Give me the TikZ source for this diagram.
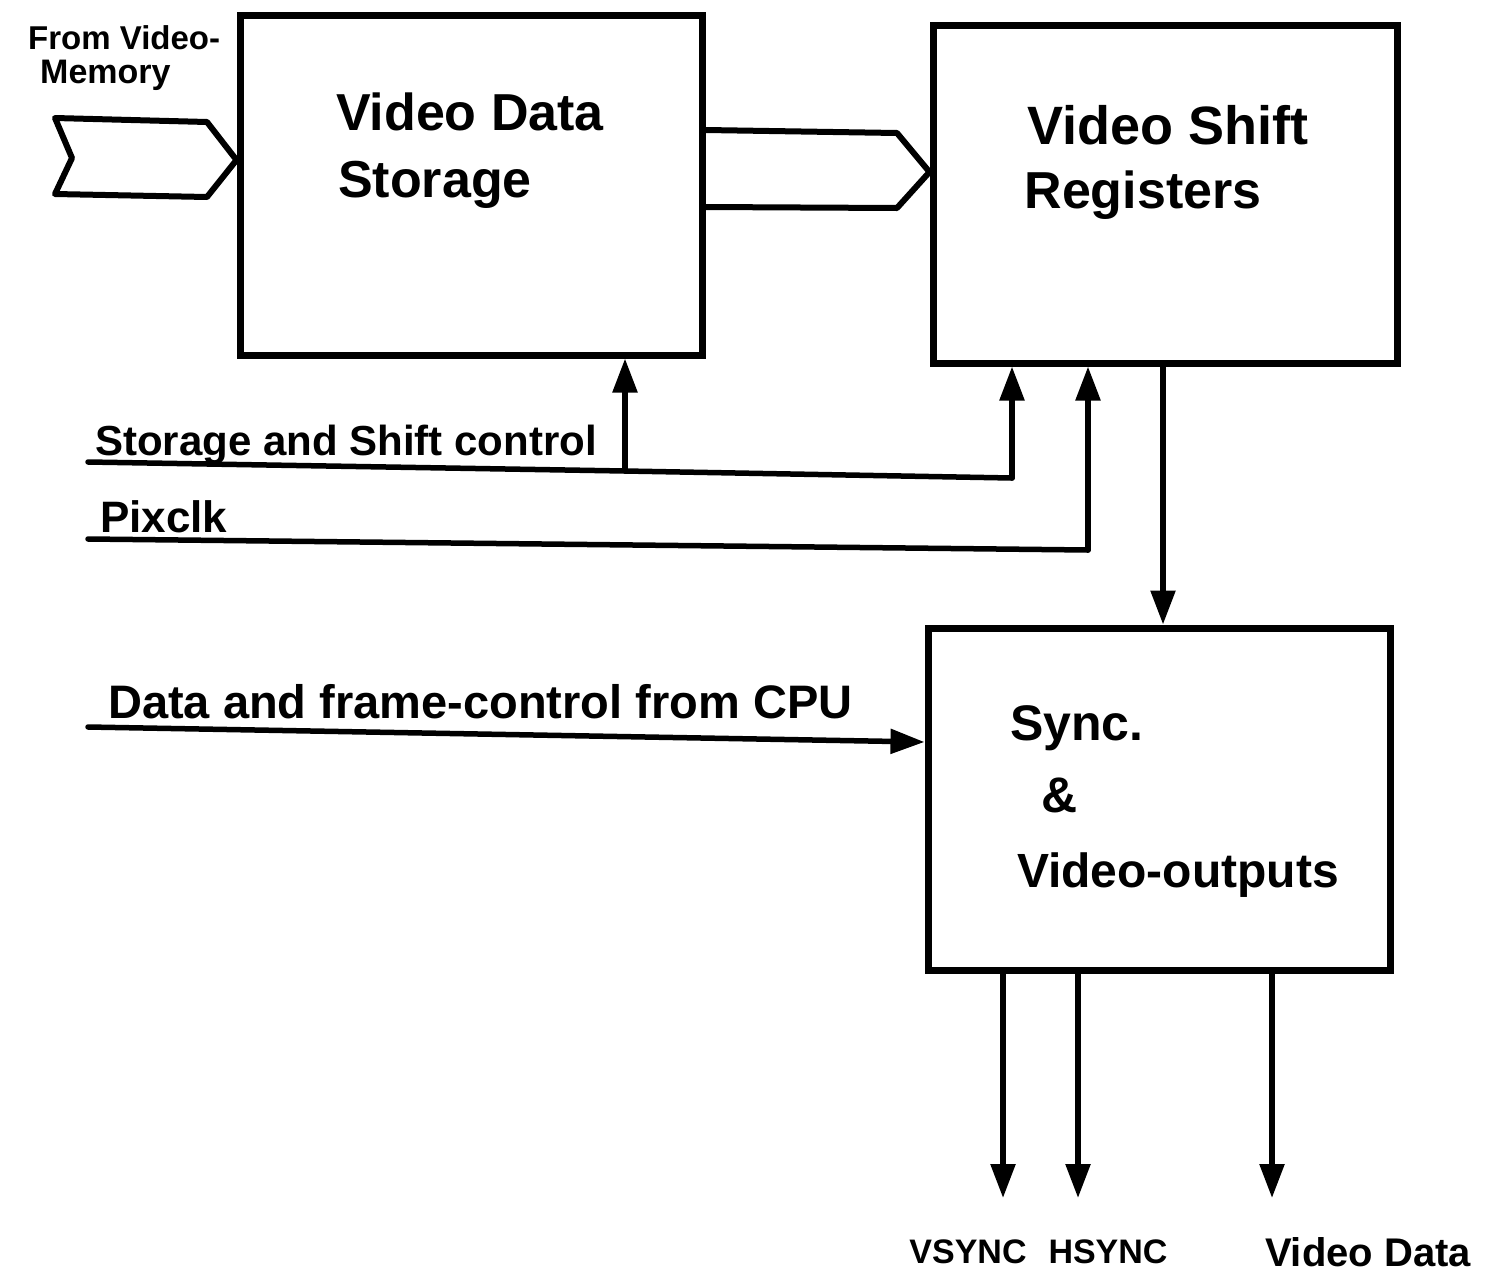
\documentclass[tikz,border=0pt]{standalone}
\usepackage{fontspec}
\setmainfont{Liberation Sans}
\usetikzlibrary{arrows.meta,calc}
\begin{document}
\begin{tikzpicture}[x=1pt,y=-1pt,
  blk/.style={draw,line width=7pt,minimum width=#1,inner sep=0pt},
  wire/.style={line width=5.5pt,line cap=round,line join=round},
  bus/.style={line width=6pt,line join=round},
  arr/.style={wire,-{Triangle[length=34pt,width=24pt]}},
  lbl/.style={font=\fontsize{#1}{#1}\selectfont\bfseries,inner sep=0pt},
  lbl/.default=50]
\useasboundingbox (0,0) rectangle (1498,1285);
% blocks
\node[blk=462pt,minimum height=340pt] (vds) at (471,185) {};
\node[blk=464pt,minimum height=338pt] (vsr) at (1165,194) {};
\node[blk=462pt,minimum height=342pt] (syn) at (1159,799) {};
% block texts
\node[lbl=52] (t1) at (470,112) {Video Data};
\node[lbl=52,anchor=west] (t2) at (338,185) {Storage};
\node[lbl=54] (t3) at (1168,125) {Video Shift};
\node[lbl=52] (t4) at (1143,195) {Registers};
\node[lbl,anchor=west] (t5) at (1010,728) {Sync.};
\node[lbl] (t6) at (1060,795) {\&};
\node[lbl=48] (t7) at (1178,875) {Video-outputs};
% input bus from video memory
\node[lbl=33,anchor=west] (m1) at (28,38) {From Video-};
\node[lbl=34,anchor=west] (m2) at (40,75) {Memory};
\coordinate (b1a) at (55,118);
\coordinate (b1b) at (207,122);
\coordinate (b1tip) at (vds.west |- 0,160);
\coordinate (b1c) at (207,197);
\coordinate (b1d) at (55,194);
\coordinate (b1e) at (72,158);
\draw[bus] (b1a) -- (b1b) -- (b1tip) -- (b1c) -- (b1d) -- (b1e) -- cycle;
% bus between storage and shift registers
\coordinate (b2a) at (vds.east |- 0,130);
\coordinate (b2b) at (897,133);
\coordinate (b2tip) at (vsr.west |- 0,172);
\coordinate (b2c) at (897,208);
\coordinate (b2d) at (vds.east |- 0,207);
\draw[bus] (b2a) -- (b2b) -- (b2tip) -- (b2c) -- (b2d);
% storage and shift control
\node[lbl=42,anchor=base west] (sc) at (95,455) {Storage and Shift control};
\coordinate (sc0) at (88,462);
\coordinate (sc1) at (625,471);
\coordinate (sc2) at (1012,478);
\draw[wire] (sc0) -- (sc1) -- (sc2);
\draw[arr] (sc1) -- (sc1 |- vds.south);
\draw[arr] (sc2) -- (sc2 |- vsr.south);
% pixel clock
\node[lbl=44,anchor=base west] (px) at (100,532) {Pixclk};
\coordinate (px0) at (88,539);
\coordinate (px1) at (1088,550);
\draw[wire] (px0) -- (px1);
\draw[arr] (px1) -- (px1 |- vsr.south);
% shift registers to sync
\coordinate (sr0) at (1163,0);
\draw[arr] (sr0 |- vsr.south) -- (sr0 |- syn.north);
% data and frame control
\node[lbl=47,anchor=base west] (cpu) at (108,718) {Data and frame-control from CPU};
\coordinate (cp0) at (88,727);
\draw[arr] (cp0) -- (syn.west |- 0,742);
% outputs
\coordinate (o1) at (1003,1198);
\coordinate (o2) at (1078,1198);
\coordinate (o3) at (1272,1198);
\draw[arr] (o1 |- syn.south) -- (o1);
\draw[arr] (o2 |- syn.south) -- (o2);
\draw[arr] (o3 |- syn.south) -- (o3);
\node[lbl=34] (l1) at (968,1252) {VSYNC};
\node[lbl=34] (l2) at (1108,1252) {HSYNC};
\node[lbl=40] (l3) at (1368,1252) {Video Data};
\end{tikzpicture}
\end{document}
